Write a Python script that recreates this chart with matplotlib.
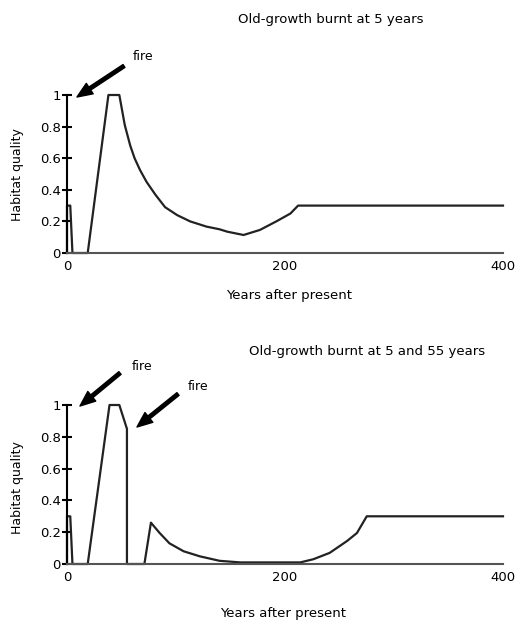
import matplotlib
matplotlib.use('Agg')
import matplotlib.pyplot as plt
from matplotlib.text import Annotation

plt.rcParams['font.family'] = 'DejaVu Sans'
plt.rcParams['font.size'] = 9

# Panel A: old-growth burnt at 5 years
years_a = [0, 0, 3, 5, 19, 38, 48, 53, 58, 62, 67, 73, 81, 90, 101, 113, 128, 140,
           147, 162, 177, 192, 205, 212, 400]
quality_a = [0, 0.3, 0.3, 0, 0, 1.0, 1.0, 0.81, 0.68, 0.60, 0.525, 0.45, 0.37, 0.29,
             0.24, 0.20, 0.167, 0.15, 0.135, 0.114, 0.146, 0.20, 0.25, 0.30, 0.30]

# Panel B: old-growth burnt at 5 and 55 years
years_b = [0, 0, 3, 5, 19, 39, 48, 55, 55, 71, 77, 85, 94, 107, 122, 140, 159,
           214, 226, 241, 257, 266, 275, 400]
quality_b = [0, 0.3, 0.3, 0, 0, 1.0, 1.0, 0.85, 0, 0, 0.26, 0.195, 0.13, 0.08, 0.048,
             0.02, 0.01, 0.01, 0.03, 0.07, 0.145, 0.195, 0.30, 0.30]

titles = ['Old-growth burnt at 5 years', 'Old-growth burnt at 5 and 55 years']
yticks = [0, 0.2, 0.4, 0.6, 0.8, 1]
ytick_labels = ['0', '0.2', '0.4', '0.6', '0.8', '1']

W, H = 518, 622
fig = plt.figure(figsize=(W / 100, H / 100), dpi=100)


def px(x, y):
    # pixel coords (top-left origin) -> figure fraction
    return x / W, 1 - y / H


def make_axes(top, bottom):
    ax = fig.add_axes([67 / W, 1 - bottom / H, (503 - 67) / W, (bottom - top) / H])
    ax.set_xlim(0, 400)
    ax.set_ylim(0, 1)
    ax.spines['top'].set_visible(False)
    ax.spines['right'].set_visible(False)
    ax.spines['left'].set_linewidth(1.5)
    ax.spines['bottom'].set_linewidth(1.5)
    ax.spines['bottom'].set_color('#555555')
    ax.set_yticks(yticks)
    ax.set_yticklabels(ytick_labels)
    ax.tick_params(axis='y', direction='inout', length=7, width=1.5, pad=1, labelsize=9.5)
    ax.set_xticks([0, 200, 400])
    ax.tick_params(axis='x', length=0, pad=5, labelsize=9.5)
    ax.set_facecolor('none')
    return ax


ax1 = make_axes(95, 253)
ax1.plot(years_a, quality_a, color='#222222', lw=1.6, clip_on=False)
ax2 = make_axes(405, 564)
ax2.plot(years_b, quality_b, color='#222222', lw=1.6, clip_on=False)

# titles
fig.text(*px(331, 20), titles[0], ha='center', va='center', fontsize=9.5)
fig.text(*px(367, 352), titles[1], ha='center', va='center', fontsize=9.5)

# axis labels
fig.text(*px(289, 296), 'Years after present', ha='center', va='center', fontsize=9.5)
fig.text(*px(283, 614), 'Years after present', ha='center', va='center', fontsize=9.5)
fig.text(*px(18, 175), 'Habitat quality', ha='center', va='center', rotation=90, fontsize=9)
fig.text(*px(18, 488), 'Habitat quality', ha='center', va='center', rotation=90, fontsize=9)

# fire arrows
arrow = dict(facecolor='black', edgecolor='black', width=2.5, headwidth=9, headlength=11, shrink=0)
fire_text = [(143, 57), (142, 366), (198, 387)]
fire_arrows = [((124, 66), (77, 97)), ((120, 373), (80, 406)), ((178, 394), (137, 427))]
for (tx, ty) in fire_text:
    fig.text(*px(tx, ty), 'fire', ha='center', va='center', fontsize=9)
for (tail, tip) in fire_arrows:
    fig.add_artist(Annotation('', xy=px(*tip), xytext=px(*tail),
                              xycoords='figure fraction', textcoords='figure fraction',
                              arrowprops=arrow))

fig.savefig('out.png', dpi=100, facecolor='white')
